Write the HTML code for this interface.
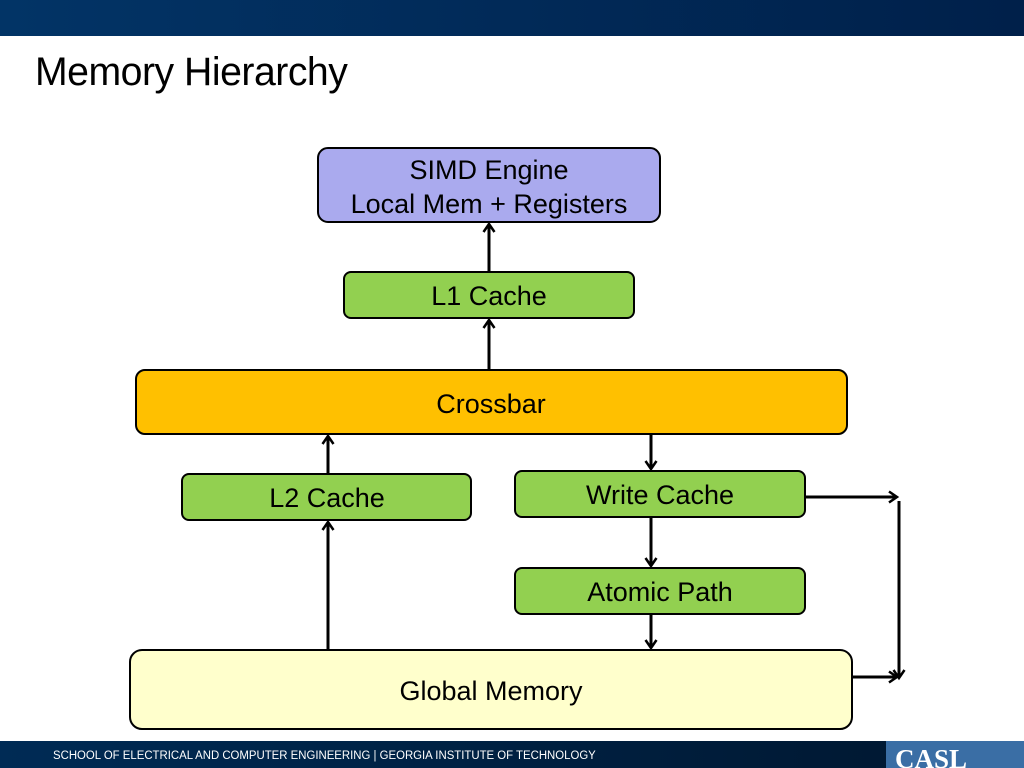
<!DOCTYPE html>
<html><head><style>
body{margin:0;width:1024px;height:768px;overflow:hidden;background:#fff;font-family:"Liberation Sans",sans-serif;position:relative}
.top{position:absolute;left:0;top:0;width:1024px;height:36px;background:linear-gradient(90deg,#023466,#00204a)}
.title{position:absolute;left:35px;top:50px;font-size:40px;color:#000;transform:scaleX(0.98);transform-origin:left top;letter-spacing:-0.5px}
.foot{position:absolute;left:0;top:741px;width:1024px;height:27px;background:linear-gradient(90deg,#002b55,#00162e)}
.foot span{position:absolute;left:53px;top:9px;font-size:11.5px;color:#fff;transform:scaleX(0.99);transform-origin:left top;white-space:nowrap}
.casl{position:absolute;left:886px;top:741px;width:138px;height:27px;background:#3a6ea5;color:#fff;font-family:"Liberation Serif",serif;font-weight:bold;font-size:27px;line-height:36px;padding-left:9px;box-sizing:border-box;overflow:hidden}
svg{position:absolute;left:0;top:0}
text{font-family:"Liberation Sans",sans-serif;font-size:27px;text-anchor:middle;fill:#000}
</style></head><body>
<div class="top"></div>
<div class="title">Memory Hierarchy</div>
<svg width="1024" height="768">
<defs><marker id="a" markerWidth="14" markerHeight="14" refX="11" refY="7" orient="auto" markerUnits="userSpaceOnUse"><path d="M3,1.5 L11,7 L3,12.5" fill="none" stroke="#000" stroke-width="2.5"/></marker></defs>
<g stroke="#000" stroke-width="2">
<rect x="318" y="148" width="342" height="74" rx="10" fill="#aaaaee"/>
<rect x="344" y="272" width="290" height="46" rx="7" fill="#92d050"/>
<rect x="136" y="370" width="711" height="64" rx="9" fill="#ffc000"/>
<rect x="182" y="474" width="289" height="46" rx="7" fill="#92d050"/>
<rect x="515" y="471" width="290" height="46" rx="7" fill="#92d050"/>
<rect x="515" y="568" width="290" height="46" rx="7" fill="#92d050"/>
<rect x="130" y="650" width="722" height="79" rx="12" fill="#ffffcc"/>
</g>
<g stroke="#000" stroke-width="3" fill="none" marker-end="url(#a)">
<line x1="489" y1="271" x2="489" y2="224"/>
<line x1="489" y1="369" x2="489" y2="320"/>
<line x1="328" y1="473" x2="328" y2="436"/>
<line x1="651" y1="435" x2="651" y2="469"/>
<line x1="651" y1="518" x2="651" y2="566"/>
<line x1="651" y1="615" x2="651" y2="648"/>
<line x1="328" y1="649" x2="328" y2="522"/>
<line x1="806" y1="497" x2="897" y2="497"/>
<line x1="899" y1="501" x2="899" y2="678"/>
<line x1="853" y1="677" x2="897" y2="677"/>
</g>
<text x="489" y="179">SIMD Engine</text>
<text x="489" y="213">Local Mem + Registers</text>
<text x="489" y="305">L1 Cache</text>
<text x="491" y="413">Crossbar</text>
<text x="327" y="507">L2 Cache</text>
<text x="660" y="504">Write Cache</text>
<text x="660" y="601">Atomic Path</text>
<text x="491" y="700">Global Memory</text>
</svg>
<div class="foot"><span>SCHOOL OF ELECTRICAL AND COMPUTER ENGINEERING | GEORGIA INSTITUTE OF TECHNOLOGY</span></div>
<div class="casl">CASL</div>
</body></html>
